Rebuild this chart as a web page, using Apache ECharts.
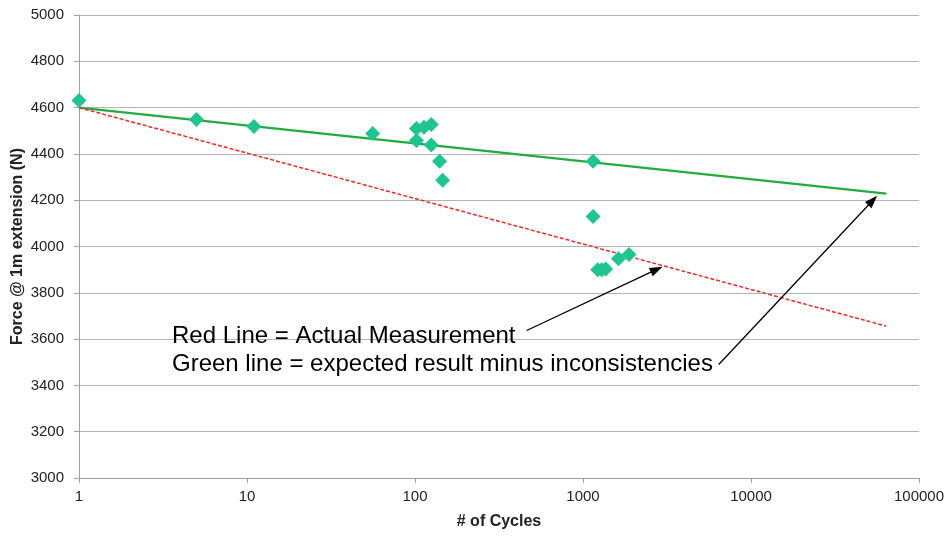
<!DOCTYPE html>
<html>
<head>
<meta charset="utf-8">
<script src="https://cdn.jsdelivr.net/npm/echarts@6/dist/echarts.min.js"></script>
<style>
html,body{margin:0;padding:0;background:#fff;}
#chart{width:952px;height:536px;}
</style>
</head>
<body>
<div id="chart"></div>
<script>
// Measured points: [cycles, force N]
const cycles = [1, 5, 11, 56, 102, 102, 113, 125, 125, 140, 146, 1148, 1148, 1223, 1292, 1365, 1625, 1878];
const force  = [4631, 4549, 4518, 4488, 4510, 4458, 4515, 4527, 4438, 4368, 4286, 4368, 4130, 3900, 3900, 3903, 3947, 3965];

// Trend lines (log fits), endpoints
const greenLine = [[1, 4600], [63900, 4228]];
const redLine   = [[1, 4600], [63900, 3656]];

// Annotation arrows: [start, end] in data coords
const arrowRed   = [[462, 3637], [2746, 3901]];
const arrowGreen = [[6427, 3490], [53000, 4199]];

const annotationLines = ['Red Line = Actual Measurement', 'Green line = expected result minus inconsistencies'];

const yTicks = {min: 3000, max: 5000, interval: 200};
const xRange = {min: 1, max: 100000};

const chart = echarts.init(document.getElementById('chart'));
const font = 'Liberation Sans, Arial, sans-serif';

chart.setOption({
  animation: false,
  backgroundColor: '#fff',
  grid: {left: 79, right: 33, top: 15, bottom: 58, containLabel: false, outerBoundsMode: 'none'},
  xAxis: {
    type: 'log', logBase: 10, min: xRange.min, max: xRange.max,
    name: '# of Cycles', nameLocation: 'middle', nameGap: 36, nameMoveOverlap: false,
    nameTextStyle: {fontFamily: font, fontWeight: 'bold', fontSize: 16, color: '#222'},
    axisLine: {show: true, lineStyle: {color: '#a0a0a0', width: 1}},
    axisTick: {show: true, inside: false, length: 5, lineStyle: {color: '#a0a0a0'}},
    minorTick: {show: false},
    splitLine: {show: false},
    axisLabel: {fontFamily: font, fontSize: 15, color: '#222', margin: 11,
      formatter: v => String(Math.round(v))}
  },
  yAxis: {
    type: 'value', min: yTicks.min, max: yTicks.max, interval: yTicks.interval,
    name: 'Force @ 1m extension (N)', nameLocation: 'middle', nameGap: 53, nameMoveOverlap: false,
    nameTextStyle: {fontFamily: font, fontWeight: 'bold', fontSize: 16, color: '#222'},
    axisLine: {show: true, lineStyle: {color: '#a0a0a0', width: 1}},
    axisTick: {show: true, inside: false, length: 5, lineStyle: {color: '#a0a0a0'}},
    splitLine: {show: true, lineStyle: {color: '#b4b4b4', width: 1}},
    axisLabel: {fontFamily: font, fontSize: 15, color: '#222', margin: 15,
      formatter: v => String(v)}
  },
  series: [
    {
      type: 'line', data: greenLine, showSymbol: false, symbol: 'none',
      lineStyle: {color: '#22ac3e', width: 2.3}, z: 3, silent: true
    },
    {
      type: 'line', data: redLine, showSymbol: false, symbol: 'none',
      lineStyle: {color: '#f02828', width: 1.5, type: [4, 2]}, z: 3, silent: true,
      markLine: {
        silent: true, symbol: ['none', 'triangle'], symbolSize: [9, 13],
        label: {show: false},
        lineStyle: {color: '#000', width: 1.3, type: 'solid'},
        data: [
          [{coord: arrowRed[0]}, {coord: arrowRed[1]}],
          [{coord: arrowGreen[0]}, {coord: arrowGreen[1]}]
        ]
      }
    },
    {
      type: 'scatter', data: cycles.map((c, i) => [c, force[i]]),
      symbol: 'diamond', symbolSize: 15,
      itemStyle: {color: '#1fc490', opacity: 1}, z: 4
    }
  ],
  graphic: [
    {type: 'text', x: 172, y: 336, z: 10,
      style: {text: annotationLines[0], font: '24px ' + font, fill: '#000', verticalAlign: 'middle'}},
    {type: 'text', x: 172, y: 364, z: 10,
      style: {text: annotationLines[1], font: '24px ' + font, fill: '#000', verticalAlign: 'middle'}}
  ]
});
</script>
</body>
</html>
